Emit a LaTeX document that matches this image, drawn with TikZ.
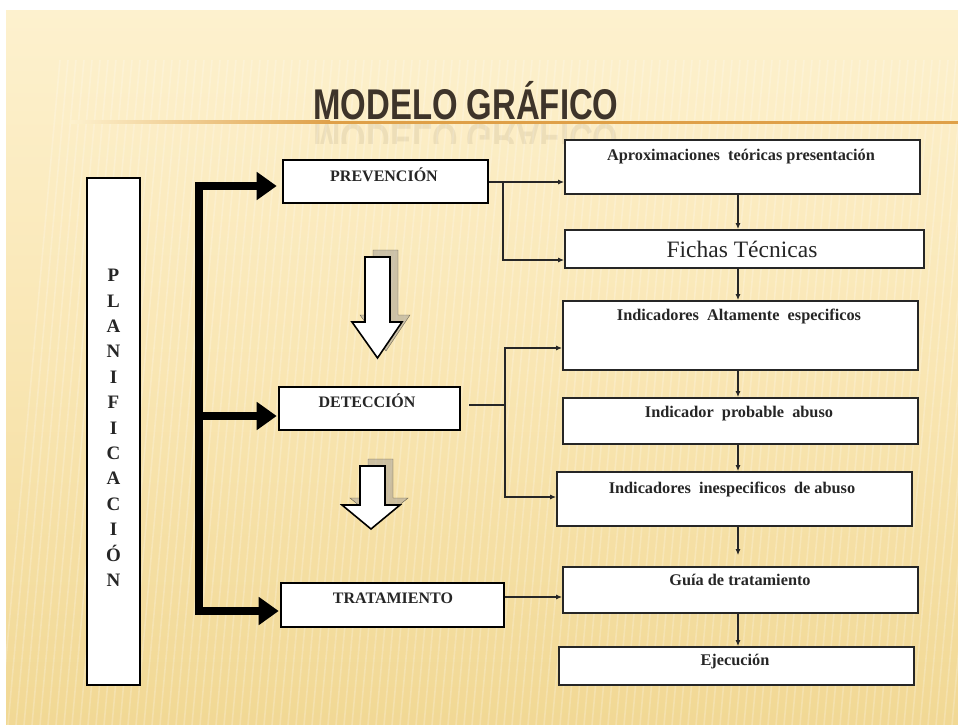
\documentclass[tikz,border=0pt]{standalone}
\usepackage{fontspec}
\setmainfont{Liberation Serif}
\newfontfamily\titlefont{Liberation Sans}
\usetikzlibrary{arrows.meta,calc}
\definecolor{bgtop}{HTML}{FDF1CE}
\definecolor{bgmid}{HTML}{F9E6B3}
\definecolor{bgbot}{HTML}{F1D894}
\definecolor{orangec}{HTML}{DFA048}
\definecolor{titlecol}{HTML}{3E342A}
\definecolor{shadowc}{HTML}{A8A196}
\tikzset{
  lbox/.style={draw=black, line width=2.6pt, fill=white, inner sep=0pt},
  rbox/.style={draw=black!85, line width=1.7pt, fill=white, inner sep=0pt},
  ltext/.style={font=\fontsize{16}{16}\selectfont\bfseries, anchor=base, inner sep=0pt, text=black!85},
  rtext/.style={font=\fontsize{16.3}{16.3}\selectfont\bfseries, anchor=base, inner sep=0pt, text=black!85},
  plet/.style={font=\fontsize{19}{19}\selectfont\bfseries, anchor=base, inner sep=0pt, text=black!85},
  titlestyle/.style={font=\titlefont\bfseries\fontsize{43}{43}\selectfont, text=titlecol, anchor=base, inner sep=0pt},
  busline/.style={line width=7.5pt, line cap=rect},
  busarr/.style={line width=7.5pt, -{Triangle[length=20pt,width=27pt]}},
  tarr/.style={line width=1.2pt, draw=black!85, -{Latex[length=6pt,width=5pt]}},
  tline/.style={line width=1.2pt, draw=black!85},
  hollow/.style={fill=white, draw=black, line width=1.6pt, line join=miter},
  hshadow/.style={fill=shadowc, opacity=0.55}
}
\begin{document}
\begin{tikzpicture}[x=1pt,y=-1pt]
\useasboundingbox (0,0) rectangle (958,725);
% background
\fill[white] (0,0) rectangle (958,725);
\shade[top color=bgtop, bottom color=bgbot, middle color=bgmid] (6,11) rectangle (958,725);
\begin{scope}
  \clip (6,60) rectangle (958,725);
  \foreach \i in {0,...,130}{
    \draw[white, opacity=0.22, line width=1.6pt] ({\i*8+60},60) -- ({\i*8},725);
  }
\end{scope}
% title with reflection
\begin{scope}
  \clip (280,123) rectangle (660,143);
  \begin{scope}[shift={(466,124)}, yscale=-1, transform shape]
    \node[titlestyle, opacity=0.08] (titlerefl) at (0,0) {\scalebox{0.765}[1]{MODELO GRÁFICO}};
  \end{scope}
\end{scope}
\node[titlestyle] (title) at (466,119) {\scalebox{0.765}[1]{MODELO GRÁFICO}};
\shade[left color=bgtop, right color=orangec] (70,120.5) rectangle (330,123.5);
\fill[orangec] (330,120.5) rectangle (958,123.5);

% left column
\node[lbox, minimum width=53pt, minimum height=507pt] (plan) at (113.5,431.5) {};
\foreach \l [count=\k] in {P,L,A,N,I,F,I,C,A,C,I,Ó,N}{
  \node[plet] (pl\k) at (113.5,{281.7+25.4*(\k-1)}) {\l};
}

\node[lbox, minimum width=205pt, minimum height=43pt] (prev) at (385.5,181.5) {};
\node[ltext] (prevt) at (384,181.5) {PREVENCIÓN};
\node[lbox, minimum width=181pt, minimum height=43pt] (det) at (369.5,408.5) {};
\node[ltext] (dett) at (367,407) {DETECCIÓN};
\node[lbox, minimum width=223pt, minimum height=44pt] (trat) at (392.5,605) {};
\node[ltext] (tratt) at (393,603) {TRATAMIENTO};

% bus
\coordinate (b1) at (199,186);
\coordinate (b2) at (199,416);
\coordinate (b3) at (199,611);
\draw[busline] (b1) -- (b3);
\draw[busarr, shorten >=5pt] (b1) -- (prev.west |- b1);
\draw[busarr, shorten >=1pt] (b2) -- (det.west |- b2);
\draw[busarr, shorten >=1pt] (b3) -- (trat.west |- b3);

% hollow arrows
\draw[hshadow] (373,250) -- (398,250) -- (398,315) -- (410,315) -- (386,351) -- (360,315) -- (373,315) -- cycle;
\draw[hollow] (365,257) -- (390,257) -- (390,322) -- (402,322) -- (377.5,358) -- (352,322) -- (365,322) -- cycle;
\draw[hshadow] (368,459) -- (393,459) -- (393,498) -- (408,498) -- (379,522) -- (350,498) -- (368,498) -- cycle;
\draw[hollow] (360,466) -- (385,466) -- (385,505) -- (400,505) -- (371,529) -- (342,505) -- (360,505) -- cycle;

% right column
\node[rbox, minimum width=355pt, minimum height=54pt] (aprox) at (742.5,167) {};
\node[rtext] (aproxt) at (741,160.7) {Aproximaciones\ \ teóricas presentación};
\node[rbox, minimum width=359pt, minimum height=38pt] (fichas) at (744.5,249) {};
\node[font=\fontsize{23.5}{23.5}\selectfont, anchor=base, inner sep=0pt, text=black!85] (fichast) at (742,257) {Fichas Técnicas};
\node[rbox, minimum width=355pt, minimum height=69pt] (alt) at (740.5,335.5) {};
\node[rtext] (altt) at (739,320.7) {Indicadores\ \ Altamente\ \ especificos};
\node[rbox, minimum width=355pt, minimum height=46pt] (prob) at (740.5,421) {};
\node[rtext] (probt) at (739,417) {Indicador\ \ probable\ \ abuso};
\node[rbox, minimum width=355pt, minimum height=54pt] (inesp) at (734.5,499) {};
\node[rtext] (inespt) at (732,493) {Indicadores\ \ inespecificos\ \ de abuso};
\node[rbox, minimum width=355pt, minimum height=46pt] (guia) at (740.5,590) {};
\node[rtext] (guiat) at (740,585.7) {Guía de tratamiento};
\node[rbox, minimum width=355pt, minimum height=38pt] (ejec) at (736.5,666) {};
\node[rtext] (eject) at (735,665.7) {Ejecución};

% vertical arrows
\coordinate (vx) at (738,0);
\draw[tarr] (aprox.south -| vx) -- (fichas.north -| vx);
\draw[tarr] (fichas.south -| vx) -- (alt.north -| vx);
\draw[tarr] (alt.south -| vx) -- (prob.north -| vx);
\draw[tarr] (prob.south -| vx) -- (inesp.north -| vx);
\draw[tarr, shorten >=11pt] (inesp.south -| vx) -- (guia.north -| vx);
\draw[tarr] (guia.south -| vx) -- (ejec.north -| vx);

% prevention branches
\coordinate (pa) at (503,182);
\coordinate (pb) at (503,260);
\draw[tarr] (prev.east |- pa) -- (aprox.west |- pa);
\draw[tarr] (pa) -- (pb) -- (fichas.west |- pb);

% detection branches
\coordinate (dj) at (505,405);
\coordinate (da) at (505,348);
\coordinate (db) at (505,497);
\draw[tline] ([xshift=8pt]det.east |- dj) -- (dj);
\draw[tarr] (dj) -- (da) -- (alt.west |- da);
\draw[tarr] (dj) -- (db) -- (inesp.west |- db);

% treatment
\coordinate (tg) at (504,597);
\draw[tarr] (trat.east |- tg) -- (guia.west |- tg);
\end{tikzpicture}
\end{document}
